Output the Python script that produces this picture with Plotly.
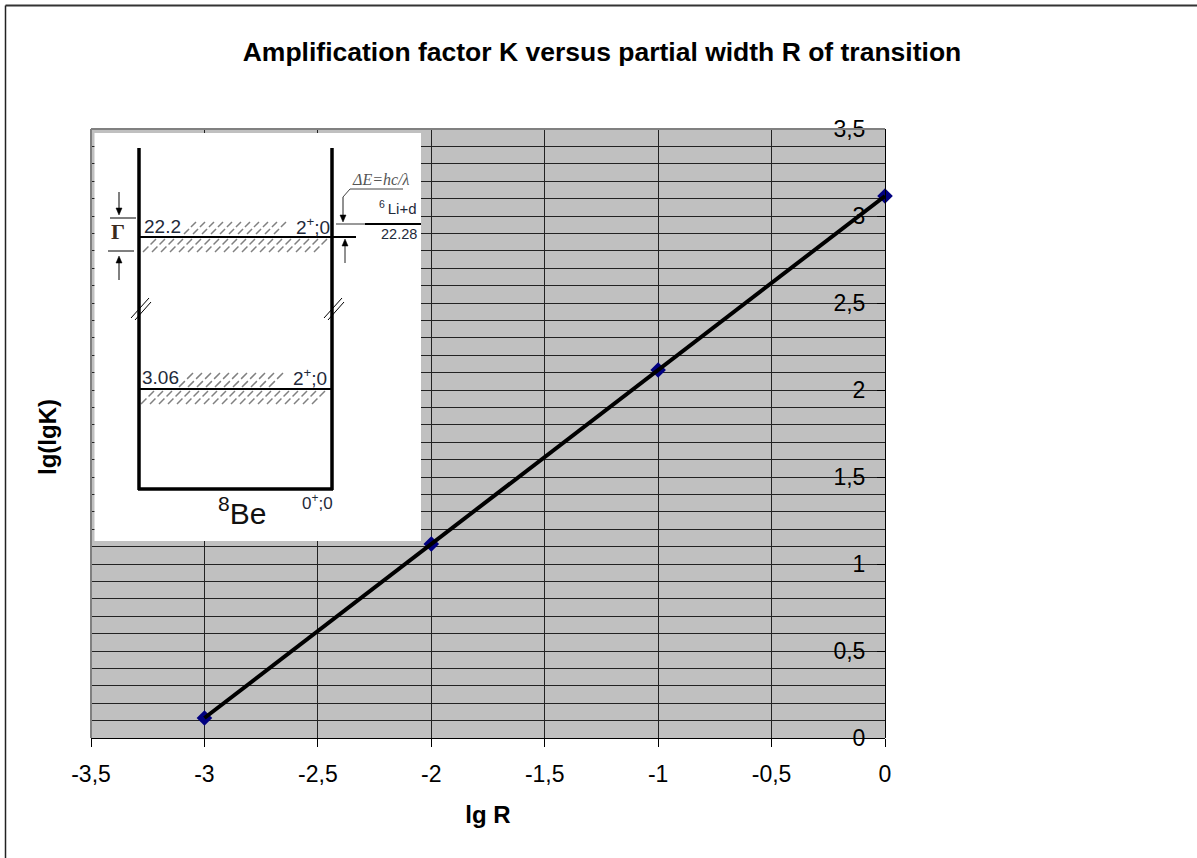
import plotly.graph_objects as go

W, H = 1197, 858

# --- chart data ---
lg_r = [-3, -2, -1, 0]
lg_lg_k = [0.115, 1.115, 2.115, 3.115]
x_ticks = [-3.5, -3, -2.5, -2, -1.5, -1, -0.5, 0]
x_labels = ["-3,5", "-3", "-2,5", "-2", "-1,5", "-1", "-0,5", "0"]
y_ticks = [0, 0.5, 1, 1.5, 2, 2.5, 3, 3.5]
y_labels = ["0", "0,5", "1", "1,5", "2", "2,5", "3", "3,5"]
y_minor = [0.1, 0.2, 0.3, 0.4, 0.6, 0.7, 0.8, 0.9, 1.1, 1.2, 1.3, 1.4, 1.6, 1.7, 1.8, 1.9,
           2.1, 2.2, 2.3, 2.4, 2.6, 2.7, 2.8, 2.9, 3.1, 3.2, 3.3, 3.4]

FONT = "Liberation Sans"
L, R, T, B = 91, 885, 129, 738  # plot area in page pixels


def px(x):
    return x / W


def py(y):
    return 1 - y / H


def seg(x0, y0, x1, y1, color="black", width=1, dash=None):
    line = dict(color=color, width=width)
    if dash:
        line["dash"] = dash
    return dict(type="line", xref="paper", yref="paper", x0=px(x0), y0=py(y0), x1=px(x1), y1=py(y1),
                line=line, layer="above")


def arrow(x, tip, direction):
    """small filled arrow head; direction +1 points down, -1 up"""
    base = tip - direction * 7
    p = f"M {px(x)} {py(tip)} L {px(x-3)} {py(base)} L {px(x+3)} {py(base)} Z"
    return dict(type="path", xref="paper", yref="paper", path=p, fillcolor="black",
                line=dict(color="black", width=0.5), layer="above")


def hatch(x0, x1, y0, y1):
    parts = []
    h = y1 - y0
    x = x0
    while x + h <= x1:
        top, bottom = py(y0), py(y1)
        # each stroke is broken in the middle like the scanned hatching
        parts.append(f"M {px(x)} {bottom} L {px(x + h * 0.42)} {py(y1 - h * 0.42)}")
        parts.append(f"M {px(x + h * 0.58)} {py(y1 - h * 0.58)} L {px(x + h)} {top}")
        x += 9
    return dict(type="path", xref="paper", yref="paper", path=" ".join(parts),
                line=dict(color="#808080", width=1.5), layer="above")


def text(x, y, s, size=19, color="#1f2a3a", family=FONT, anchor="center", **kw):
    return dict(xref="paper", yref="paper", x=px(x), y=py(y), text=s, showarrow=False,
                xanchor=anchor, yanchor="middle", font=dict(family=family, size=size, color=color),
                **kw)


shapes = [
    # page edge lines
    seg(5.5, 5.5, W, 5.5, "#333333", 2),
    seg(5.5, 5.5, 5.5, H, "#222222", 1.5),
    # grey plot frame
    seg(L, T, R, T, "#808080", 2),
    seg(L, T, L, B, "#808080", 2),
    # inset panel
    dict(type="rect", xref="paper", yref="paper", x0=px(94.5), x1=px(421), y0=py(133), y1=py(541),
         fillcolor="white", line=dict(width=0), layer="above"),
    hatch(184, 293, 222, 234),
    hatch(143, 330, 239, 252),
    hatch(179, 290, 373, 387),
    hatch(141, 330, 391, 404),
    # well walls and floor
    seg(139, 148, 139, 490, "black", 3.5),
    seg(332, 148, 332, 490, "black", 3.5),
    seg(138, 489, 333, 489, "black", 3.5),
    # levels
    seg(139, 237, 356, 237, "black", 2),
    seg(139, 389, 332, 389, "black", 2),
    # width marks
    seg(110, 218, 136, 218),
    seg(108, 251, 134, 251),
    seg(119, 192, 119, 212),
    arrow(119, 215, 1),
    seg(119, 260, 119, 280),
    arrow(119, 256, -1),
    # axis breaks
    seg(131, 318, 149, 298),
    seg(135, 320, 151, 302),
    seg(324, 318, 342, 298),
    seg(328, 320, 344, 302),
    # dE marks
    seg(336, 224, 421, 224, "#333333", 1),
    seg(365, 224, 421, 224, "black", 2),
    seg(350, 189, 403, 189, "#444444", 1),
    seg(350, 189, 343, 197, "#444444", 1),
    seg(343, 197, 343, 216, "#222222", 1),
    arrow(343, 222, 1),
    seg(345, 244, 345, 263, "#222222", 1),
    arrow(345, 239, -1),
]

annotations = [
    text(47, 437, "<b>lg(lgK)</b>", size=24, color="black", textangle=-90),
    text(162, 226, "22.2"),
    text(313, 226, "2<sup>+</sup>;0"),
    text(160, 377, "3.06"),
    text(310, 377, "2<sup>+</sup>;0"),
    text(317, 502, "0<sup>+</sup>;0", size=17),
    text(242, 511, "<sup>8</sup>Be", size=30, color="#111111"),
    text(398, 207, "<sup>6 </sup>Li+d", size=15),
    text(399, 234, "22.28", size=14.5),
    text(381, 179, "<i>ΔE=hc/λ</i>", size=16, color="#555555", family="Liberation Serif"),
    text(118, 232, "<b>Γ</b>", size=22, color="#3a2a20", family="Liberation Serif"),
]

fig = go.Figure()
fig.add_trace(go.Scatter(x=lg_r, y=lg_lg_k, mode="markers", cliponaxis=False, showlegend=False,
                         marker=dict(symbol="diamond", size=12, color="#000080")))
fig.add_trace(go.Scatter(x=lg_r, y=lg_lg_k, mode="lines", cliponaxis=False, showlegend=False,
                         line=dict(color="black", width=4)))

fig.update_layout(
    width=W, height=H, autosize=False,
    margin=dict(l=0, r=0, t=0, b=0, autoexpand=False),
    paper_bgcolor="white", plot_bgcolor="#C0C0C0",
    font=dict(family=FONT, color="black"),
    title=dict(text="<b>Amplification factor K versus partial width R of transition</b>",
               x=px(602), xanchor="center", y=py(52), yanchor="middle",
               font=dict(family=FONT, size=26.5, color="black")),
    xaxis=dict(domain=[px(L), px(R)], range=[-3.5, 0], tickmode="array", tickvals=x_ticks, ticktext=x_labels,
               showgrid=True, gridcolor="#222222", gridwidth=1, zeroline=False,
               showline=True, linecolor="black", linewidth=1,
               ticks="outside", ticklen=8, tickcolor="black", tickfont=dict(size=23),
               ticklabelstandoff=7,
               title=dict(text="<b>lg R</b>", font=dict(size=24), standoff=20)),
    yaxis=dict(domain=[py(B), py(T)], range=[0, 3.5], tickmode="array", tickvals=y_ticks, ticktext=y_labels,
               anchor="free", position=px(R), side="left",
               showgrid=True, gridcolor="#222222", gridwidth=1, zeroline=False,
               minor=dict(tickmode="array", tickvals=y_minor, showgrid=True, gridcolor="#222222", gridwidth=1, ticks=""),
               showline=True, linecolor="black", linewidth=1,
               ticks="outside", ticklen=8, tickcolor="black", tickfont=dict(size=23),
               ticklabelstandoff=7),
    shapes=shapes,
    annotations=annotations,
)

fig.write_html("out.html", config={"displayModeBar": False}, post_script="document.body.style.margin='0';")
